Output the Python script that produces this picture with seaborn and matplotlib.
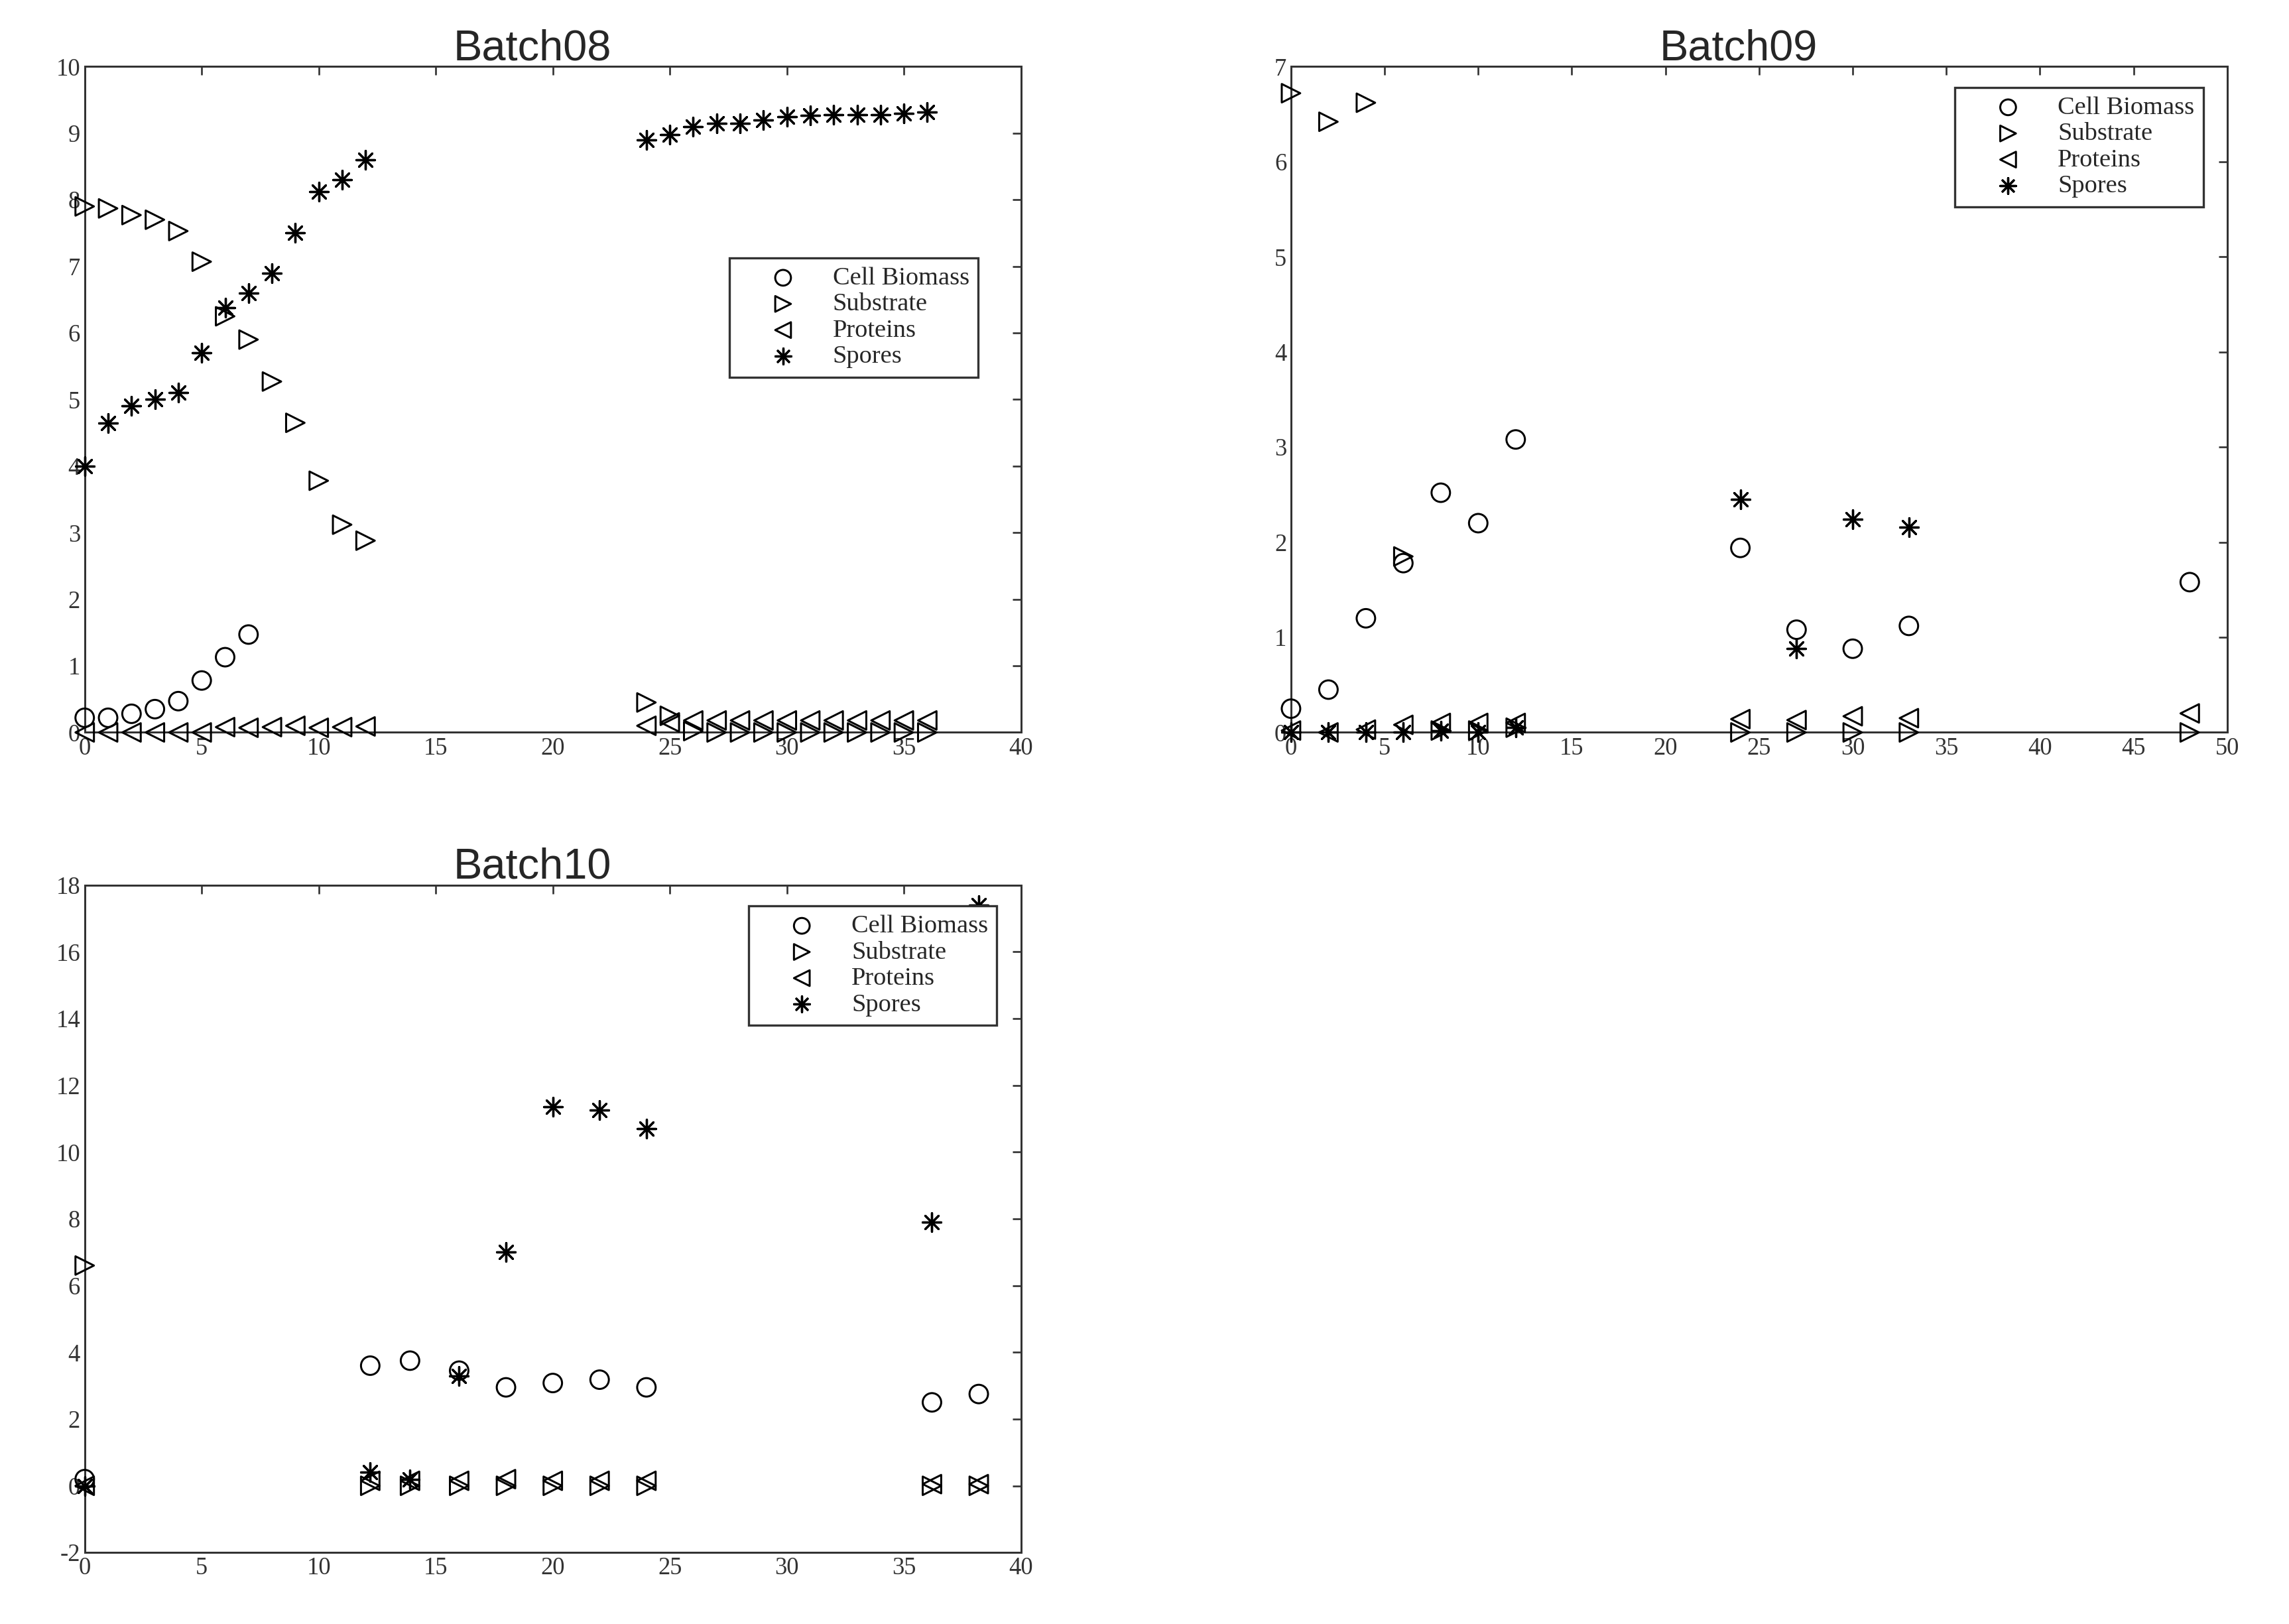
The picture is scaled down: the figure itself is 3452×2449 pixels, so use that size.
import numpy as np
import seaborn as sns
import matplotlib.pyplot as plt
from matplotlib.ticker import MultipleLocator

# Batch08 data
t08 = [0, 1, 2, 3, 4, 5, 6, 7, 8, 9, 10, 11, 12,
       24, 25, 26, 27, 28, 29, 30, 31, 32, 33, 34, 35, 36]
biomass08 = [0.22, 0.22, 0.28, 0.35, 0.47, 0.78, 1.13, 1.47] + [np.nan] * 18
substrate08 = [7.9, 7.87, 7.77, 7.7, 7.53, 7.07, 6.25, 5.9, 5.27, 4.65, 3.78, 3.12, 2.88,
               0.45, 0.25, 0.02, 0.0, 0.0, 0.0, 0.0, 0.0, 0.0, 0.0, 0.0, 0.0, 0.0]
proteins08 = [0.0, 0.0, 0.0, 0.0, 0.0, 0.0, 0.08, 0.07, 0.08, 0.1, 0.07, 0.08, 0.09,
              0.1, 0.15, 0.18, 0.18, 0.18, 0.18, 0.18, 0.18, 0.18, 0.18, 0.18, 0.18, 0.18]
spores08 = [4.0, 4.65, 4.9, 5.0, 5.1, 5.7, 6.38, 6.6, 6.9, 7.5, 8.12, 8.3, 8.6,
            8.9, 8.98, 9.1, 9.15, 9.15, 9.2, 9.25, 9.27, 9.28, 9.28, 9.28, 9.3, 9.32]

# Batch09 data
t09 = [0, 2, 4, 6, 8, 10, 12, 24, 27, 30, 33, 48]
biomass09 = [0.25, 0.45, 1.2, 1.78, 2.52, 2.2, 3.08, 1.94, 1.08, 0.88, 1.12, 1.58]
substrate09 = [6.72, 6.42, 6.62, 1.85, 0.02, 0.02, 0.05, 0.0, 0.0, 0.0, 0.0, 0.0]
proteins09 = [0.02, 0.0, 0.03, 0.08, 0.1, 0.1, 0.1, 0.14, 0.13, 0.17, 0.15, 0.2]
spores09 = [0.0, 0.0, 0.0, 0.0, 0.02, 0.0, 0.05, 2.45, 0.88, 2.24, 2.16, np.nan]

# Batch10 data
t10 = [0, 12.2, 13.9, 16, 18, 20, 22, 24, 36.2, 38.2]
biomass10 = [0.2, 3.6, 3.75, 3.45, 2.95, 3.08, 3.18, 2.95, 2.5, 2.75]
substrate10 = [6.6, 0.0, 0.0, 0.0, 0.0, 0.0, 0.0, 0.0, 0.0, 0.0]
proteins10 = [0.0, 0.15, 0.15, 0.15, 0.2, 0.15, 0.15, 0.15, 0.05, 0.05]
spores10 = [0.0, 0.4, 0.2, 3.3, 7.0, 11.35, 11.25, 10.7, 7.9, 17.4]

labels = ['Cell Biomass', 'Substrate', 'Proteins', 'Spores']
markers = ['o', '>', '<', (8, 2, 0)]

sns.set_style('white')
plt.rcParams['font.family'] = ['Liberation Serif', 'DejaVu Serif']
plt.rcParams['axes.unicode_minus'] = False

fig = plt.figure(figsize=(3452 / 240, 2449 / 240), dpi=240)
ax1 = fig.add_axes([0.037, 0.549, 0.409, 0.410])
ax2 = fig.add_axes([0.564, 0.549, 0.409, 0.410])
ax3 = fig.add_axes([0.037, 0.044, 0.409, 0.411])

batches = [
    (ax1, 'Batch08', t08, [biomass08, substrate08, proteins08, spores08],
     (0, 40), (0, 10), 1, (0.968, 0.732)),
    (ax2, 'Batch09', t09, [biomass09, substrate09, proteins09, spores09],
     (0, 50), (0, 7), 1, (0.988, 0.988)),
    (ax3, 'Batch10', t10, [biomass10, substrate10, proteins10, spores10],
     (0, 40), (-2, 18), 2, (0.988, 0.988)),
]

for ax, title, t, series, xlim, ylim, ystep, legpos in batches:
    for vals, lab, m in zip(series, labels, markers):
        if lab == 'Spores':
            # line-art marker: colour comes from facecolor
            sns.scatterplot(x=t, y=vals, marker=m, s=70, color='black',
                            linewidth=1.0, label=lab, ax=ax,
                            clip_on=False, zorder=3)
        else:
            sns.scatterplot(x=t, y=vals, marker=m, s=70, color='black',
                            facecolor='none', edgecolor='black', linewidth=0.9,
                            label=lab, ax=ax, clip_on=False, zorder=3)
    ax.set_xlim(*xlim)
    ax.set_ylim(*ylim)
    ax.xaxis.set_major_locator(MultipleLocator(5))
    ax.yaxis.set_major_locator(MultipleLocator(ystep))
    ax.tick_params(direction='in', top=True, right=True, length=4, width=0.8,
                   labelsize=11, colors='#333333', pad=2)
    for sp in ax.spines.values():
        sp.set_color('#333333')
        sp.set_linewidth(0.9)
    ax.set_title(title, family='Liberation Sans', fontsize=19.5, pad=3, x=0.478)
    ax.legend(loc='upper right', bbox_to_anchor=legpos, fontsize=11.5,
              frameon=True, fancybox=False, edgecolor='#333333',
              handletextpad=0.2, borderpad=0.35, labelspacing=0.12,
              handlelength=3.5, markerscale=0.85, framealpha=1)

fig.savefig('out.png', dpi=240, facecolor='white')
